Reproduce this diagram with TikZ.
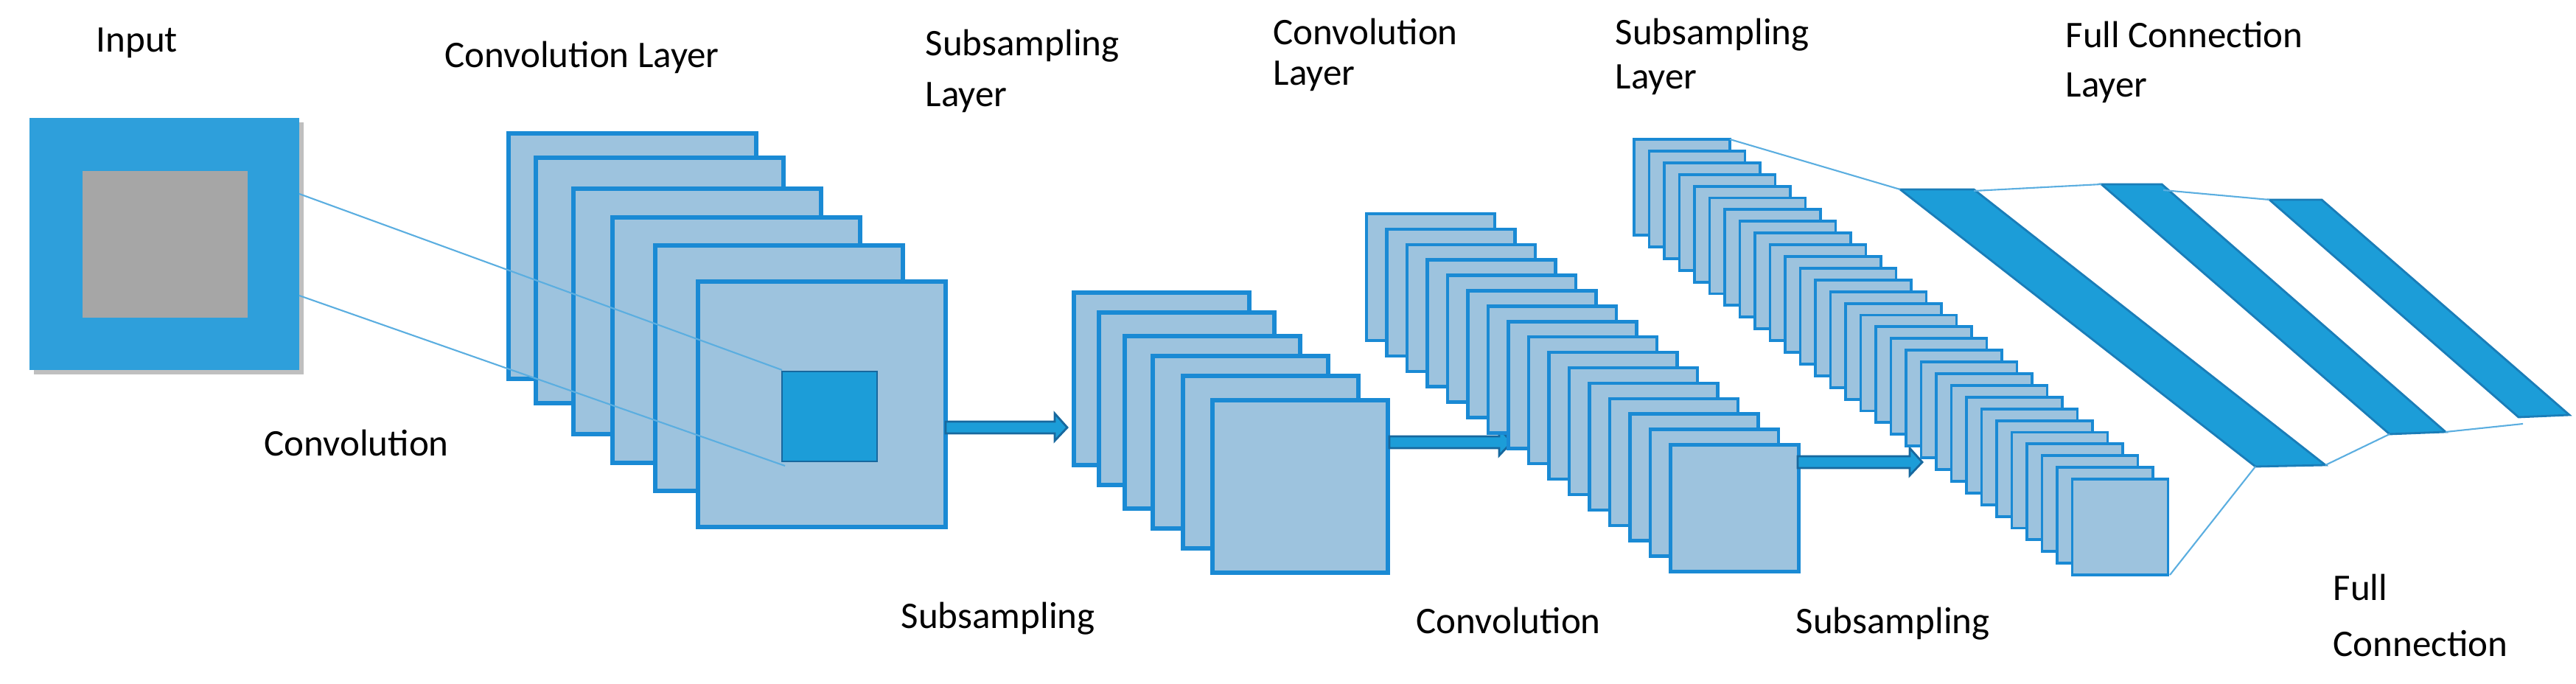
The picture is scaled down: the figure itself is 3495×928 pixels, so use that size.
\documentclass[tikz,border=0pt]{standalone}
\usepackage{fontspec}
\setmainfont{Carlito}
\begin{document}
\begin{tikzpicture}[x=0.01cm,y=-0.01cm,
  lbl/.style={anchor=base west,inner sep=0pt,font=\fontsize{14.5}{18}\selectfont},
  fmap/.style={fill=mapfill,draw=mapedge,line width=1.6pt},
  link/.style={draw=linkc,line width=0.6pt},
  bar/.style={fill=barfill,draw=baredge,line width=0.8pt},
  fat/.style={fill=barfill,draw=arrowedge,line width=0.8pt}]
\definecolor{mapfill}{HTML}{9DC3DE}
\definecolor{mapedge}{HTML}{1A8AD4}
\definecolor{inpfill}{HTML}{2E9FDB}
\definecolor{barfill}{HTML}{1C9DD8}
\definecolor{baredge}{HTML}{1A7DB8}
\definecolor{arrowedge}{HTML}{17689E}
\definecolor{linkc}{HTML}{5BAEE0}
\useasboundingbox (0,0) rectangle (3495,928);
% input
\fill[black!25] (46,166) rectangle (412,508);
\fill[inpfill] (40,160) rectangle (406,502);
\fill[black!35] (112,232) rectangle (336,431);
\coordinate (i1) at (406,263);
\coordinate (i2) at (406,401);
% conv stack 1
\foreach \x/\y in {690/181,727/214,778/256,831/295,889/333,947/382}
  \draw[fmap] (\x,\y) rectangle ++(336,333);
\draw[fat,fill=barfill] (1061,504) rectangle (1190,626);
\coordinate (k1) at (1061,502);
\coordinate (k2) at (1065,632);
\draw[link] (i1) -- (k1);
\draw[link] (i2) -- (k2);
% arrow 1
\draw[fat] (1283,572) -- (1431,572) -- (1431,561) -- (1448,580) -- (1431,598) -- (1431,588) -- (1283,588) -- cycle;
% subsampling stack 1
\foreach \x/\y in {1457/397,1491/424,1526/456,1564/483,1605/510,1645/543}
  \draw[fmap] (\x,\y) rectangle ++(238,234);
% arrow 2
\draw[fat] (1885,592) -- (2034,592) -- (2034,581) -- (2051,600) -- (2034,618) -- (2034,608) -- (1885,608) -- cycle;
% conv stack 2
\foreach \i in {0,...,15}
  \draw[fmap,line width=1.3pt] ({1854+27.5*\i},{290+20.9*\i}) rectangle ++(174,172);
% arrow 3
\draw[fat] (2439,619) -- (2591,619) -- (2591,608) -- (2608,627) -- (2591,645) -- (2591,635) -- (2439,635) -- cycle;
% subsampling stack 2
\foreach \i in {0,...,29}
  \draw[fmap,line width=1.1pt] ({2217+20.5*\i},{189+15.9*\i}) rectangle ++(130,130);
\coordinate (s1) at (2347,189);
\coordinate (s2) at (2944,780);
% full connection bars
\draw[bar] (2578,257) -- (2678,257) -- (3155,631) -- (3060,633) -- cycle;
\draw[bar] (2851,250) -- (2933,250) -- (3318,586) -- (3242,589) -- cycle;
\draw[bar] (3079,271) -- (3150,271) -- (3486,563) -- (3417,566) -- cycle;
\draw[link] (s1) -- (2578,257);
\draw[link] (s2) -- (3060,633);
\draw[link] (2678,259) -- (2851,250);
\draw[link] (3155,631) -- (3242,589);
\draw[link] (2935,258) -- (3079,271);
\draw[link] (3318,586) -- (3423,575);
% labels
\node[lbl] (t1) at (130,71) {Input};
\node[lbl] (t2) at (603,92) {Convolution Layer};
\node[lbl] (t3) at (1255,76) {Subsampling};
\node[lbl] (t3b) at (1255,145) {Layer};
\node[lbl] (t4) at (1727,61) {Convolution};
\node[lbl] (t4b) at (1727,116) {Layer};
\node[lbl] (t5) at (2191,61) {Subsampling};
\node[lbl] (t5b) at (2191,121) {Layer};
\node[lbl] (t6) at (2802,65) {Full Connection};
\node[lbl] (t6b) at (2802,132) {Layer};
\node[lbl] (t7) at (358,619) {Convolution};
\node[lbl] (t8) at (1222,852) {Subsampling};
\node[lbl] (t9) at (1921,859) {Convolution};
\node[lbl] (t10) at (2436,859) {Subsampling};
\node[lbl] (t11) at (3165,814) {Full};
\node[lbl] (t11b) at (3165,890) {Connection};
\end{tikzpicture}
\end{document}
